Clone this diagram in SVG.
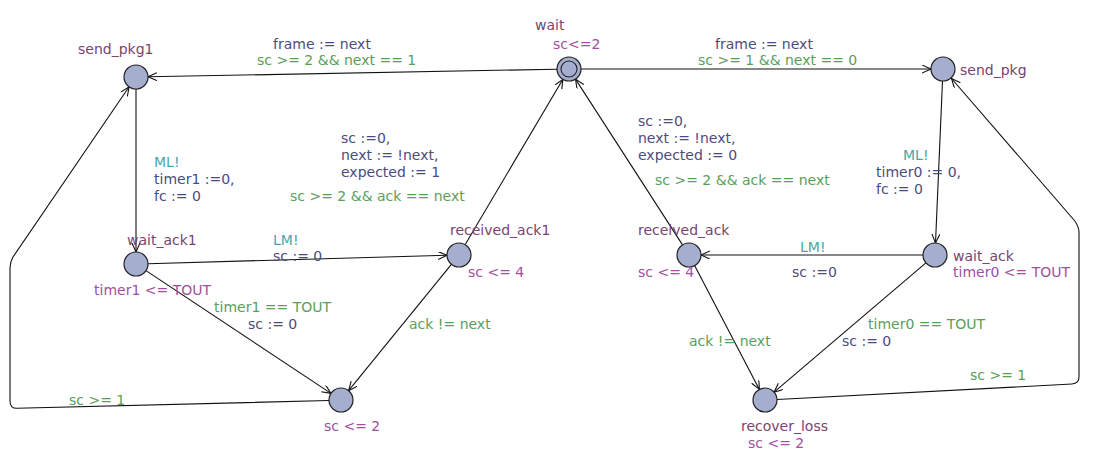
<svg xmlns="http://www.w3.org/2000/svg" width="1100" height="476" viewBox="0 0 1100 476">
<defs>
<style>
text{font-family:"DejaVu Sans","Liberation Sans",sans-serif;font-size:14px}
.nm{fill:#7a4470}
.inv{fill:#a050a0}
.gd{fill:#5a9e5a}
.up{fill:#4c4c7c}
.sy{fill:#4aa6a6}
.loc{fill:#a6aed0;stroke:#222;stroke-width:1.2}
.e{fill:none;stroke:#111;stroke-width:1.1}
</style>
<marker id="ar" markerUnits="userSpaceOnUse" markerWidth="12" markerHeight="10" refX="9" refY="4" orient="auto">
<path d="M0,0 L9,4 L0,8" fill="none" stroke="#111" stroke-width="1.1"/>
</marker>
</defs>
<rect width="1100" height="476" fill="#fff"/>
<g id="connectors">
<line class="e" x1="557" y1="69.2" x2="148" y2="76.8" marker-end="url(#ar)"/>
<line class="e" x1="581" y1="69" x2="931" y2="69" marker-end="url(#ar)"/>
<line class="e" x1="136" y1="89" x2="136" y2="252" marker-end="url(#ar)"/>
<line class="e" x1="148" y1="263.7" x2="447" y2="255.3" marker-end="url(#ar)"/>
<line class="e" x1="465.1" y1="244.7" x2="562.9" y2="79.3" marker-end="url(#ar)"/>
<line class="e" x1="451.4" y1="264.3" x2="348.6" y2="390.7" marker-end="url(#ar)"/>
<line class="e" x1="146" y1="270.6" x2="331" y2="393.4" marker-end="url(#ar)"/>
<path class="e" d="M329,400.5 L17,408.3 Q10,408.5 10,401 L10,268 Q10,262 13,257 L129.1,86.8" marker-end="url(#ar)"/>
<line class="e" x1="923" y1="255" x2="701" y2="255" marker-end="url(#ar)"/>
<line class="e" x1="682.5" y1="244.9" x2="575.5" y2="79.1" marker-end="url(#ar)"/>
<line class="e" x1="694.6" y1="265.6" x2="759.4" y2="389.4" marker-end="url(#ar)"/>
<line class="e" x1="942.5" y1="81" x2="935.5" y2="243" marker-end="url(#ar)"/>
<line class="e" x1="925.9" y1="262.8" x2="774.1" y2="392.2" marker-end="url(#ar)"/>
<path class="e" d="M777,399.5 L1072,384 Q1079,383.5 1079,377 L1079,233 Q1079,226 1074,220 L951.5,78.5" marker-end="url(#ar)"/>
</g>
<g id="send_pkg1"><circle class="loc" cx="136" cy="77" r="12"/><text class="nm" x="78" y="54">send_pkg1</text></g>
<g id="wait"><circle class="loc" cx="569" cy="69" r="12"/><circle cx="569" cy="69" r="8" fill="none" stroke="#222" stroke-width="1.1"/><text class="nm" x="535" y="30">wait</text><text class="inv" x="553" y="49">sc&lt;=2</text></g>
<g id="send_pkg"><circle class="loc" cx="943" cy="69" r="12"/><text class="nm" x="960" y="75">send_pkg</text></g>
<g id="wait_ack1"><circle class="loc" cx="136" cy="264" r="12"/><text class="nm" x="127" y="245">wait_ack1</text><text class="inv" x="94" y="295">timer1 &lt;= TOUT</text></g>
<g id="received_ack1"><circle class="loc" cx="459" cy="255" r="12"/><text class="nm" x="450" y="235">received_ack1</text><text class="inv" x="468" y="277">sc &lt;= 4</text></g>
<g id="loss1"><circle class="loc" cx="341" cy="400" r="12"/><text class="inv" x="324" y="431">sc &lt;= 2</text></g>
<g id="received_ack"><circle class="loc" cx="689" cy="255" r="12"/><text class="nm" x="638" y="235">received_ack</text><text class="inv" x="638" y="277">sc &lt;= 4</text></g>
<g id="wait_ack"><circle class="loc" cx="935" cy="255" r="12"/><text class="nm" x="953" y="261">wait_ack</text><text class="inv" x="953" y="277">timer0 &lt;= TOUT</text></g>
<g id="recover_loss"><circle class="loc" cx="765" cy="400" r="12"/><text class="nm" x="741" y="431">recover_loss</text><text class="inv" x="748" y="448">sc &lt;= 2</text></g>
<g id="labels">
<text class="up" x="273" y="49">frame := next</text>
<text class="gd" x="257" y="65">sc &gt;= 2 &amp;&amp; next == 1</text>
<text class="up" x="715" y="49">frame := next</text>
<text class="gd" x="698" y="65">sc &gt;= 1 &amp;&amp; next == 0</text>
<text class="sy" x="154" y="167">ML!</text>
<text class="up" x="154" y="184">timer1 :=0,</text>
<text class="up" x="154" y="201">fc := 0</text>
<text class="up" x="341" y="143">sc :=0,</text>
<text class="up" x="341" y="160">next := !next,</text>
<text class="up" x="341" y="177">expected := 1</text>
<text class="gd" x="290" y="201">sc &gt;= 2 &amp;&amp; ack == next</text>
<text class="sy" x="273" y="245">LM!</text>
<text class="up" x="273" y="261">sc := 0</text>
<text class="gd" x="214" y="312">timer1 == TOUT</text>
<text class="up" x="248" y="329">sc := 0</text>
<text class="gd" x="409" y="329">ack != next</text>
<text class="gd" x="69" y="405">sc &gt;= 1</text>
<text class="up" x="638" y="126">sc :=0,</text>
<text class="up" x="638" y="143">next := !next,</text>
<text class="up" x="638" y="160">expected := 0</text>
<text class="gd" x="655" y="185">sc &gt;= 2 &amp;&amp; ack == next</text>
<text class="sy" x="903" y="160">ML!</text>
<text class="up" x="876" y="177">timer0 := 0,</text>
<text class="up" x="876" y="194">fc := 0</text>
<text class="sy" x="800" y="252">LM!</text>
<text class="up" x="792" y="277">sc :=0</text>
<text class="gd" x="689" y="346">ack != next</text>
<text class="gd" x="868" y="329">timer0 == TOUT</text>
<text class="up" x="842" y="346">sc := 0</text>
<text class="gd" x="970" y="380">sc &gt;= 1</text>
</g>
</svg>
